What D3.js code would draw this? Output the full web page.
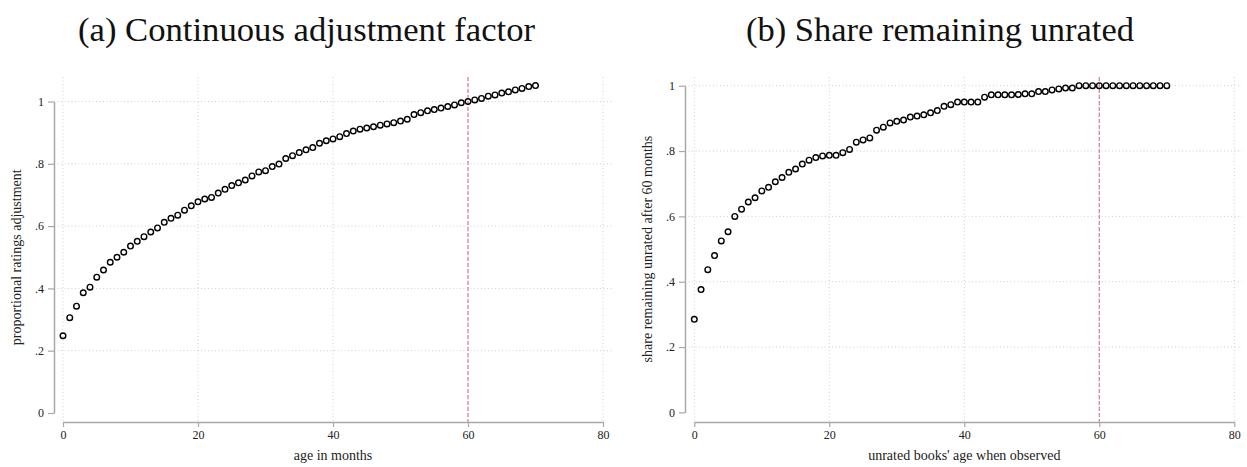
<!DOCTYPE html>
<html>
<head>
<meta charset="utf-8">
<script src="https://cdn.jsdelivr.net/npm/d3@7"></script>
<style>
  html, body { margin: 0; padding: 0; background: #fff; }
  svg { display: block; }
  .tick text { font-family: "Liberation Serif", "Times New Roman", serif; }
</style>
</head>
<body>
<svg id="chart" width="1247" height="467"></svg>
<script>
// Months since release, 0..70
const months = d3.range(0, 71);

// (a) proportional ratings adjustment by age in months
const adjustment = [
  0.248, 0.306, 0.343, 0.386, 0.404, 0.436, 0.459, 0.484, 0.500, 0.516,
  0.536, 0.551, 0.566, 0.581, 0.594, 0.612, 0.625, 0.635, 0.651, 0.665,
  0.678, 0.687, 0.692, 0.706, 0.718, 0.730, 0.739, 0.748, 0.761, 0.774,
  0.778, 0.791, 0.799, 0.817, 0.826, 0.836, 0.845, 0.852, 0.866, 0.874,
  0.880, 0.887, 0.897, 0.905, 0.911, 0.915, 0.919, 0.924, 0.928, 0.932,
  0.937, 0.943, 0.958, 0.964, 0.970, 0.974, 0.979, 0.984, 0.989, 0.996,
  1.000, 1.005, 1.010, 1.017, 1.021, 1.027, 1.031, 1.037, 1.042, 1.048, 1.051
];

// (b) share of unrated books still unrated after 60 months
const shareUnrated = [
  0.285, 0.376, 0.437, 0.480, 0.525, 0.553, 0.600, 0.622, 0.644, 0.657,
  0.678, 0.689, 0.706, 0.719, 0.735, 0.745, 0.760, 0.772, 0.780, 0.785,
  0.787, 0.787, 0.795, 0.805, 0.827, 0.834, 0.840, 0.864, 0.873, 0.886,
  0.891, 0.895, 0.904, 0.907, 0.911, 0.917, 0.924, 0.937, 0.942, 0.950,
  0.950, 0.950, 0.950, 0.965, 0.972, 0.972, 0.972, 0.972, 0.973, 0.975,
  0.975, 0.982, 0.982, 0.987, 0.990, 0.993, 0.993, 1.000, 1.000, 1.000,
  1.000, 1.000, 1.000, 1.000, 1.000, 1.000, 1.000, 1.000, 1.000, 1.000, 1.000
];

const xTicks = [0, 20, 40, 60, 80];
const yTicks = [0, 0.2, 0.4, 0.6, 0.8, 1];
const yTickLabels = ["0", ".2", ".4", ".6", ".8", "1"];
const cutoffMonth = [60];

const titles = ["(a) Continuous adjustment factor", "(b) Share remaining unrated"];
const xTitles = ["age in months", "unrated books' age when observed"];
const yTitles = ["proportional ratings adjustment", "share remaining unrated after 60 months"];

const svg = d3.select("#chart");
const serif = '"Liberation Serif", "Times New Roman", serif';

function drawPanel(opt) {
  const g = svg.append("g");
  const x = d3.scaleLinear().domain([0, 80]).range([opt.x0, opt.x1]);
  const y = d3.scaleLinear().domain([0, 1]).range([opt.y0, opt.y1]);

  // panel title
  svg.append("text")
    .attr("x", opt.titleX).attr("y", 41)
    .attr("font-family", serif)
    .attr("font-size", 34)
    .attr("textLength", opt.titleW).attr("lengthAdjust", "spacingAndGlyphs")
    .attr("fill", "#111")
    .text(opt.title);

  // dotted grid
  const grid = g.append("g")
    .attr("stroke", "#cfcfcf").attr("stroke-width", 1)
    .attr("stroke-dasharray", "1,2.5");
  grid.selectAll("line.v").data(xTicks).join("line")
    .attr("x1", d => x(d)).attr("x2", d => x(d))
    .attr("y1", opt.top).attr("y2", opt.bottom);
  grid.selectAll("line.h").data(yTicks.filter(d => d > 0)).join("line")
    .attr("x1", opt.left).attr("x2", opt.right)
    .attr("y1", d => y(d)).attr("y2", d => y(d));

  // reference line at 60 months
  g.selectAll("line.cut").data(cutoffMonth).join("line")
    .attr("x1", d => x(d)).attr("x2", d => x(d))
    .attr("y1", opt.top).attr("y2", opt.bottom)
    .attr("stroke", "#d97aac").attr("stroke-width", 1.2)
    .attr("stroke-dasharray", "4,2");

  // axes
  const yAxis = d3.axisLeft(y).tickValues(yTicks)
    .tickFormat((d, i) => yTickLabels[i])
    .tickSizeInner(6).tickSizeOuter(0).tickPadding(4);
  const ya = g.append("g").attr("transform", `translate(${opt.left},0)`).call(yAxis);

  const xAxis = d3.axisBottom(x).tickValues(xTicks)
    .tickFormat(d3.format("d"))
    .tickSizeInner(5).tickSizeOuter(0).tickPadding(3);
  const xa = g.append("g").attr("transform", `translate(0,${opt.bottom})`).call(xAxis);

  [ya, xa].forEach(a => {
    a.select(".domain").attr("stroke", "#a8a8a8").attr("stroke-width", 1.5);
    a.selectAll(".tick line").attr("stroke", "#a8a8a8").attr("stroke-width", 1.2);
    a.selectAll(".tick text").attr("font-size", 12).attr("fill", "#222")
      .attr("font-family", serif);
  });

  // axis titles
  g.append("text")
    .attr("x", (opt.x0 + opt.x1) / 2).attr("y", 460)
    .attr("text-anchor", "middle")
    .attr("font-family", serif).attr("font-size", 14).attr("fill", "#222")
    .text(opt.xTitle);
  g.append("text")
    .attr("transform", `translate(${opt.yTitleX},${(opt.y0 + opt.y1) / 2}) rotate(-90)`)
    .attr("text-anchor", "middle")
    .attr("font-family", serif).attr("font-size", 14).attr("fill", "#222")
    .text(opt.yTitle);

  // hollow circle markers
  g.append("g").selectAll("circle").data(months).join("circle")
    .attr("cx", d => x(d))
    .attr("cy", (d, i) => y(opt.values[i]))
    .attr("r", 2.8)
    .attr("fill", "none").attr("stroke", "#000").attr("stroke-width", 1.4);
}

drawPanel({
  title: titles[0], titleX: 78, titleW: 457,
  xTitle: xTitles[0], yTitle: yTitles[0], yTitleX: 21,
  values: adjustment,
  x0: 63, x1: 603, y0: 413, y1: 101.5,
  left: 54, right: 612, top: 77, bottom: 422
});

drawPanel({
  title: titles[1], titleX: 746, titleW: 388,
  xTitle: xTitles[1], yTitle: yTitles[1], yTitleX: 652,
  values: shareUnrated,
  x0: 694.3, x1: 1234.3, y0: 412.4, y1: 85.7,
  left: 685, right: 1242, top: 77, bottom: 422
});
</script>
</body>
</html>
